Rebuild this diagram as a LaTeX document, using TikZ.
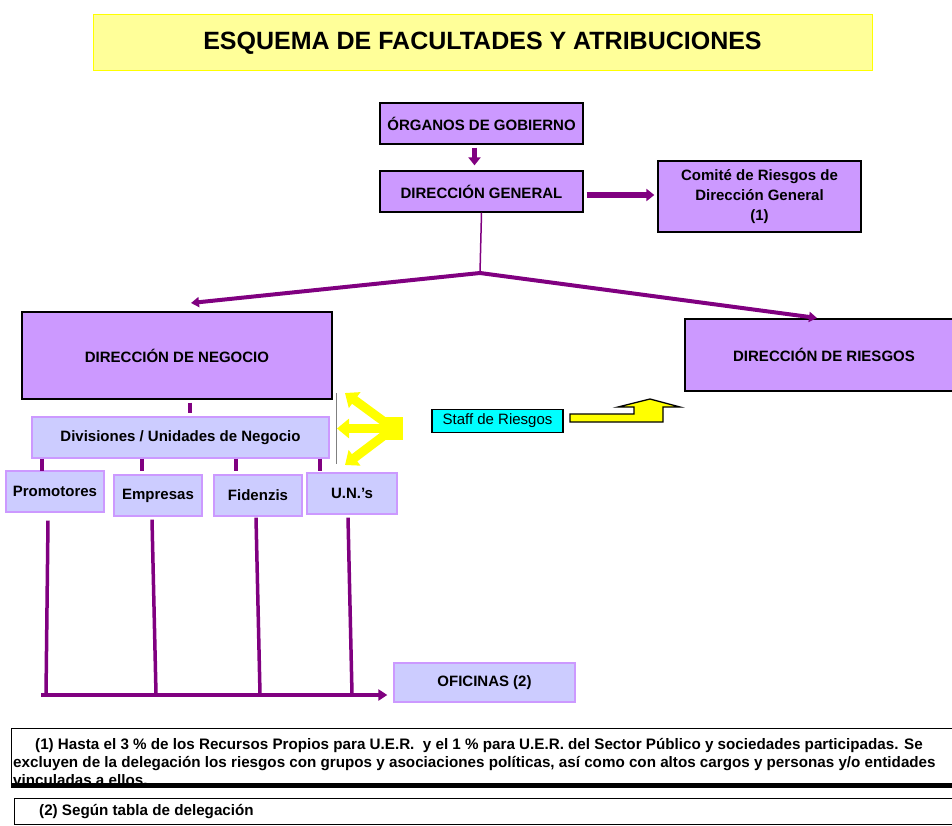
\documentclass[tikz,border=0pt]{standalone}
\usepackage{fontspec}
\setmainfont{Liberation Sans}
\usetikzlibrary{arrows.meta}
\definecolor{lila}{HTML}{CC99FF}
\definecolor{lavanda}{HTML}{CCCCFF}
\definecolor{morado}{HTML}{800080}
\definecolor{crema}{HTML}{FFFF99}
\definecolor{amarillo}{HTML}{FFFF00}
\definecolor{turquesa}{HTML}{00FFFF}
\tikzset{
   caja/.style={draw=black,line width=1.3pt,fill=lila,align=center,inner sep=0pt,
    font=\fontsize{15}{20}\selectfont\bfseries},
   unidad/.style={draw=lila,line width=1.3pt,fill=lavanda,inner sep=0pt,minimum height=41pt,
    font=\fontsize{15}{17}\selectfont\bfseries},
   flecha/.style={morado,line width=5.5pt,-{Triangle[length=8pt,width=12pt]}},
   flechita/.style={morado,line width=4pt,-{Triangle[length=8pt,width=10pt]}},
   trazo/.style={morado,line width=3.5pt},
   amarilla/.style={amarillo,line width=9pt,-{Triangle[length=12pt,width=19pt]}},
   nota/.style={inner sep=0pt,align=left,font=\fontsize{15.2}{18}\selectfont\bfseries}
}
\begin{document}
\begin{tikzpicture}[x=1pt,y=-1pt]
   \useasboundingbox (0,0) rectangle (952,826);
   \node[draw=amarillo,line width=1pt,fill=crema,minimum width=779pt,minimum height=56pt,
    font=\fontsize{25}{28}\selectfont\bfseries] (titulo) at (482.5,43)
    {ESQUEMA DE FACULTADES Y ATRIBUCIONES};
   \node[caja,minimum width=203pt,minimum height=41pt] (organos) at (481.5,123.5) {ÓRGANOS DE GOBIERNO};
   \node[caja,minimum width=203pt,minimum height=41pt] (dg) at (481.5,191.5) {DIRECCIÓN GENERAL};
   \node[caja,minimum width=203pt,minimum height=71pt] (comite) at (759.5,196.5)
    {Comité de Riesgos de\\Dirección General\\(1)};
   \node[caja,minimum width=310pt,minimum height=87pt] (dn) at (177,355.5) {DIRECCIÓN DE NEGOCIO};
   \node[caja,minimum width=278pt,minimum height=72pt] (dr) at (824,355) {DIRECCIÓN DE RIESGOS};
   \node[unidad,minimum width=297pt] (divisiones) at (180.5,437.5) {Divisiones / Unidades de Negocio};
   \node[unidad,minimum width=98pt] (promotores) at (55,491.5) {Promotores};
   \node[unidad,minimum width=88pt] (empresas) at (158,495.5) {Empresas};
   \node[unidad,minimum width=88pt] (fidenzis) at (258,495.5) {Fidenzis};
   \node[unidad,minimum width=90pt] (uns) at (352,493.5) {U.N.'s};
   \node[unidad,minimum width=181pt,minimum height=39pt] (oficinas) at (484.5,682.5) {OFICINAS (2)};
   \node[draw=black,line width=1.3pt,fill=turquesa,minimum width=131pt,minimum height=23pt,inner sep=0pt,
    font=\fontsize{15}{17}\selectfont] (staff) at (497.5,421) {Staff de Riesgos};
   \coordinate (split) at (480,273);
   \coordinate (puntaN) at (191,303);
   \coordinate (puntaR) at (817,318);
   \coordinate (base) at (41,695);
   \path (46,695) coordinate (p1) (156,694) coordinate (p2) (260,694) coordinate (p3) (352,694) coordinate (p4);
   \draw[flecha,shorten <=3pt,shorten >=5pt] ([xshift=-7pt]organos.south) -- ([xshift=-7pt]dg.north);
   \draw[flecha,shorten <=3pt,shorten >=3pt] ([yshift=-3.5pt]dg.east) -- ([yshift=1.5pt]comite.west);
   \draw[morado,line width=1.5pt] (dg.south) -- (split);
   \draw[flechita] (split) -- (puntaN);
   \draw[flechita] (split) -- (puntaR);
   \draw[trazo] ([xshift=13pt,yshift=-3pt]dn.south) -- ([xshift=9.5pt,yshift=3pt]divisiones.north);
   \foreach \n/\d in {promotores/-13,empresas/-16,fidenzis/-22,uns/-32}
    \draw[trazo] ([xshift=\d pt]\n.north |- divisiones.south) -- ([xshift=\d pt]\n.north |- 0,471);
   \foreach \n/\d/\e/\p in {promotores/-7/-8/p1,empresas/-6/-3/p2,fidenzis/-2/-1/p3,uns/-4/-3/p4}
    \draw[trazo] ([xshift=\d pt,yshift=\e pt]\n.south) -- (\p);
   \draw[morado,line width=4.5pt,-{Triangle[length=9pt,width=11pt]},shorten >=6pt] (base) -- (base -| oficinas.west);
   \draw[gray,line width=1pt] (336,393) -- (336,464);
   \fill[amarillo] (380,417) rectangle (403,440);
   \draw[amarilla] (392,428.5) -- (337,428.5);
   \draw[amarilla] (390,426) -- (345,393);
   \draw[amarilla] (390,431) -- (345,465);
   \draw[fill=amarillo,line width=1.3pt,line join=miter] (570,414) -- (634,414) -- (634,407) -- (618,407)
    -- (650,399) -- (680,407) -- (663,407) -- (663,422) -- (570,422) -- cycle;
   \draw[line width=1pt] (11,728) rectangle (960,786);
   \node[nota,anchor=base west] (nota1) at (13,785)
    {\hspace*{22pt}(1) Hasta el 3 \% de los Recursos Propios para U.E.R.\ \ y el 1 \% para U.E.R. del Sector Público y sociedades participadas. Se\\
     excluyen de la delegación los riesgos con grupos y asociaciones políticas, así como con altos cargos y personas y/o entidades\\
     vinculadas a ellos.};
   \draw[line width=5pt] (11,785.5) -- (960,785.5);
   \draw[line width=1pt] (14,798) rectangle (960,824);
   \node[nota,anchor=base west] (nota2) at (39,815) {(2) Según tabla de delegación};
\end{tikzpicture}
\end{document}
